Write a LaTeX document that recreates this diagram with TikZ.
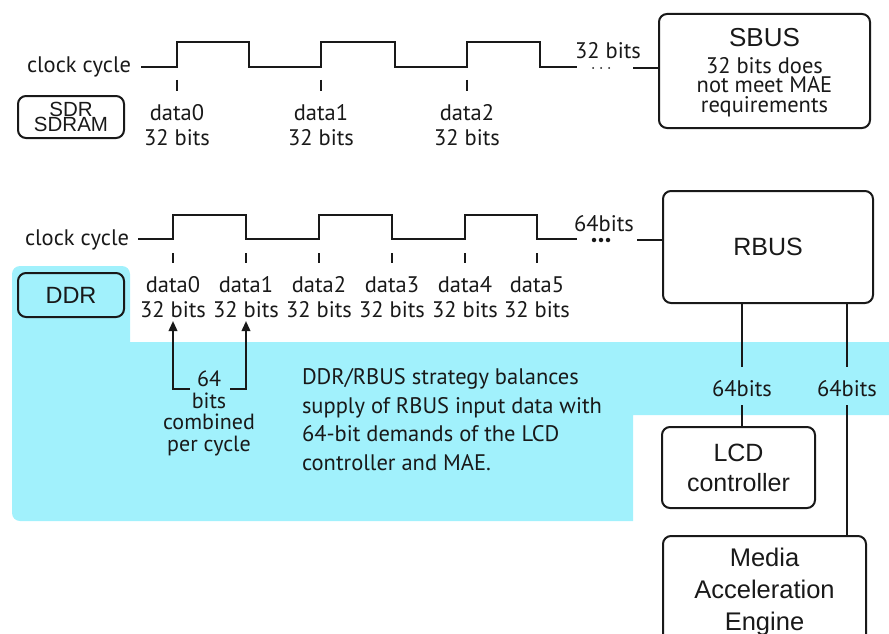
\documentclass[tikz,border=0pt]{standalone}
\usepackage{fontspec}
\setmainfont{PT Sans}
\newfontfamily\arialf{Liberation Sans}
\usetikzlibrary{arrows.meta}
\definecolor{ddrcyan}{RGB}{161,241,252}
\definecolor{ink}{RGB}{25,25,25}
\begin{document}
\begin{tikzpicture}[x=1pt,y=-1pt,
  line width=2pt,
  box/.style={draw=ink, rounded corners=8pt, line width=2pt, align=center, inner sep=0pt, text=ink, font=\arialf\fontsize{25}{30}\selectfont},
  lbl/.style={text=ink, font=\fontsize{22.5}{25}\selectfont, align=center, inner sep=0pt},
  wave/.style={draw=ink, line width=2pt},
  tickmark/.style={draw=ink, line width=2pt},
  conn/.style={draw=ink, line width=2pt},
  arr/.style={draw=ink, line width=2pt, -{Triangle[length=10pt,width=8.5pt]}},
  dot/.style={circle, fill=ink, inner sep=0pt},
]
\useasboundingbox (0,0) rectangle (889,634);

% cyan background region
\fill[ddrcyan] (130,342) -- (889,342) -- (889,415) -- (633,415) -- (633,521)
  [rounded corners=8pt] -- (12,521) -- (12,266) -- (130,266) [sharp corners] -- cycle;

% ---------- SDR part ----------
\node[lbl, anchor=base east] (clk1) at (132,73) {clock cycle};
\draw[wave] (141,67) -- (177,67) -- (177,42) -- (249,42) -- (249,67) -- (321,67) -- (321,42)
  -- (395,42) -- (395,67) -- (467,67) -- (467,42) -- (540,42) -- (540,67) -- (577,67);
\node[dot, minimum size=2pt] (sd1) at (593,68) {};
\node[dot, minimum size=2pt] (sd2) at (601,68) {};
\node[dot, minimum size=2pt] (sd3) at (609,68) {};
\node[lbl, anchor=base] (sbits) at (608,59) {32 bits};
\node[box, minimum width=211pt, minimum height=114pt] (sbus) at (764.5,71) {};
\node[text=ink, font=\arialf\fontsize{26}{26}\selectfont, anchor=base, inner sep=0pt] (sbust) at (sbus.center |- 0,47) {SBUS};
\node[lbl, font=\fontsize{22.5}{19.5}\selectfont, anchor=base] (sbusd) at (sbus.center |- 0,112) {32 bits does\\not meet MAE\\requirements};
\coordinate (sw) at (633,68);
\draw[conn] (sw) -- (sw -| sbus.west);

\foreach \x/\i in {177/0,321/1,467/2}{
  \draw[tickmark] (\x,80) -- (\x,91);
  \node[lbl, anchor=base] (sdata\i) at (\x,145) {data\i\\32 bits};
}
\node[box, minimum width=106pt, minimum height=42pt, font=\arialf\fontsize{20.5}{15.5}\selectfont] (sdr) at (71,117) {SDR\\SDRAM};

% ---------- DDR part ----------
\node[lbl, anchor=base east] (clk2) at (130,245) {clock cycle};
\draw[wave] (138,239) -- (173,239) -- (173,215) -- (246,215) -- (246,239) -- (319,239) -- (319,215)
  -- (392,215) -- (392,239) -- (465,239) -- (465,215) -- (537,215) -- (537,239) -- (577,239);
\node[dot, minimum size=4.5pt] (dd1) at (594,240) {};
\node[dot, minimum size=4.5pt] (dd2) at (601,240) {};
\node[dot, minimum size=4.5pt] (dd3) at (608,240) {};
\node[lbl, anchor=base] (rbits) at (604,231) {64bits};
\node[box, minimum width=210pt, minimum height=112pt] (rbus) at (768,247) {RBUS};
\coordinate (rw) at (637,240);
\draw[conn] (rw) -- (rw -| rbus.west);

\foreach \x/\i in {173/0,246/1,319/2,392/3,465/4,537/5}{
  \draw[tickmark] (\x,253) -- (\x,263);
  \node[lbl, anchor=base] (ddata\i) at (\x,317) {data\i\\32 bits};
}
\node[box, minimum width=106pt, minimum height=44pt, font=\arialf\fontsize{23.5}{24}\selectfont] (ddr) at (71,295) {DDR};

% bracket with arrows
\node[lbl, font=\fontsize{22}{21.5}\selectfont, anchor=base] (comb) at (209,451) {64\\bits\\combined\\per cycle};
\coordinate (bl) at (190,389);
\coordinate (br) at (230,389);
\draw[arr] (bl) -- (ddata0.south |- bl) -- (ddata0.south |- 0,321);
\draw[arr] (br) -- (ddata1.south |- br) -- (ddata1.south |- 0,321);

% paragraph
\node[lbl, font=\fontsize{22.5}{28.5}\selectfont, align=left, anchor=base west] (para) at (301,470)
  {DDR/RBUS strategy balances\\supply of RBUS input data with\\64-bit demands of the LCD\\controller and MAE.};

% RBUS outputs
\node[box, minimum width=153pt, minimum height=81pt] (lcd) at (738.5,467.5) {LCD\\controller};
\node[box, minimum width=203pt, minimum height=112pt, font=\arialf\fontsize{25.5}{32}\selectfont, anchor=north] (mae) at (764.5,535) {Media\\Acceleration\\Engine};
\node[lbl, anchor=base] (o1) at (742,396) {64bits};
\node[lbl, anchor=base] (o2) at (847,396) {64bits};
\coordinate (t1) at (742,367);
\coordinate (t2) at (847,367);
\coordinate (u1) at (742,405);
\coordinate (u2) at (847,405);
\draw[conn] (t1 |- rbus.south) -- (t1);
\draw[conn] (u1) -- (u1 |- lcd.north);
\draw[conn] (t2 |- rbus.south) -- (t2);
\draw[conn] (u2) -- (u2 |- mae.north);
\end{tikzpicture}
\end{document}
